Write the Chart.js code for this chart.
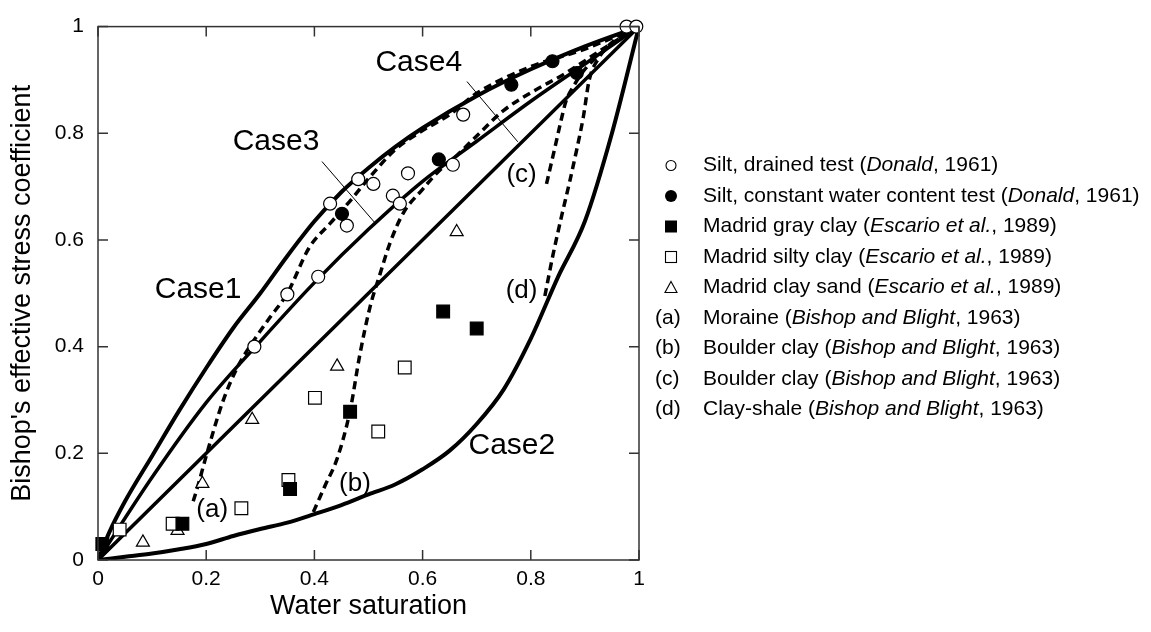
<!DOCTYPE html>
<html>
<head>
<meta charset="utf-8">
<script src="https://cdn.jsdelivr.net/npm/chart.js@4.4.1/dist/chart.umd.min.js"></script>
<style>
	html, body { margin: 0; padding: 0; background: #fff; }
	#wrap { width: 1151px; height: 632px; }
</style>
</head>
<body>
<div id="wrap"><canvas id="chart" width="1151" height="632"></canvas></div>
<script>
// axis ticks
var tick_values = [0, 0.2, 0.4, 0.6, 0.8, 1];
var tick_labels = ['0', '0.2', '0.4', '0.6', '0.8', '1'];

// model curves, [water saturation, chi]
var case1 = [[0,0],[0.02,0.05],[0.05,0.11],[0.1,0.195],[0.15,0.28],[0.2,0.36],[0.25,0.435],[0.3,0.5],[0.35,0.57],[0.4,0.635],[0.45,0.69],[0.5,0.735],[0.55,0.775],[0.6,0.81],[0.7,0.87],[0.8,0.92],[0.9,0.963],[1,1]];
var case3 = [[0,0],[0.1,0.155],[0.2,0.295],[0.3,0.41],[0.4,0.52],[0.5,0.62],[0.6,0.71],[0.7,0.785],[0.8,0.86],[0.9,0.93],[1,1]];
var case4 = [[0,0],[1,1]];
var case2 = [[0,0],[0.05,0.006],[0.1,0.012],[0.15,0.02],[0.2,0.03],[0.25,0.045],[0.3,0.058],[0.35,0.07],[0.4,0.086],[0.45,0.103],[0.5,0.123],[0.55,0.142],[0.6,0.17],[0.65,0.205],[0.7,0.255],[0.75,0.32],[0.8,0.415],[0.85,0.53],[0.9,0.635],[0.95,0.8],[1,1]];

// Bishop and Blight (1963) test curves
var curve_a = [[0.176,0.11],[0.185,0.14],[0.2,0.195],[0.23,0.295],[0.257,0.36],[0.287,0.41],[0.318,0.455],[0.35,0.5],[0.39,0.585],[0.43,0.632],[0.47,0.678],[0.5,0.715],[0.55,0.77],[0.6,0.805],[0.65,0.835],[0.7,0.875],[0.8,0.925],[0.9,0.958],[1,1]];
var curve_b = [[0.398,0.09],[0.42,0.14],[0.442,0.19],[0.466,0.28],[0.484,0.385],[0.503,0.475],[0.521,0.535],[0.54,0.595],[0.564,0.65],[0.6,0.695],[0.626,0.725],[0.663,0.758],[0.7,0.795],[0.75,0.843],[0.8,0.876],[0.865,0.913],[0.93,0.956],[1,1]];
var curve_c = [[0.829,0.705],[0.837,0.74],[0.845,0.775],[0.855,0.82],[0.865,0.86],[0.88,0.89],[0.9,0.92],[0.93,0.95],[0.96,0.975],[1,1]];
var curve_d = [[0.826,0.495],[0.841,0.572],[0.857,0.645],[0.872,0.71],[0.885,0.77],[0.897,0.83],[0.908,0.9],[0.925,0.94],[0.95,0.97],[1,1]];

// measured points
var silt_drained = [[0.289,0.40],[0.35,0.498],[0.407,0.531],[0.429,0.668],[0.46,0.627],[0.481,0.714],[0.509,0.705],[0.545,0.683],[0.558,0.668],[0.573,0.725],[0.656,0.741],[0.675,0.835],[0.977,1.0],[0.995,1.0]];
var silt_constant = [[0.451,0.649],[0.63,0.751],[0.764,0.891],[0.84,0.935],[0.885,0.913]];
var gray_clay = [[0.008,0.03],[0.156,0.068],[0.355,0.133],[0.466,0.278],[0.638,0.466],[0.70,0.434]];
var silty_clay = [[0.04,0.057],[0.138,0.068],[0.265,0.097],[0.352,0.15],[0.401,0.304],[0.518,0.241],[0.567,0.361]];
var clay_sand = [[0.083,0.033],[0.147,0.055],[0.193,0.143],[0.285,0.263],[0.442,0.363],[0.663,0.615]];

// leader lines for the Case3 / Case4 labels
var leader3 = [[0.414,0.747],[0.512,0.632]];
var leader4 = [[0.682,0.897],[0.776,0.784]];

var FONT = '"Liberation Sans", Arial, Helvetica, sans-serif';
Chart.defaults.font.family = FONT;
Chart.defaults.color = '#000';

var to_xy = function(arr) {
	return arr.map(function(p) { return {x: p[0], y: p[1]}; });
};

var marks = function(arr, style, radius, fill) {
	return {
		type: 'scatter', data: to_xy(arr), showLine: false, clip: false,
		pointStyle: style, pointRadius: radius, pointHoverRadius: radius,
		pointBackgroundColor: fill, pointBorderColor: '#000', pointBorderWidth: 1.2
	};
};

var curve = function(arr, width, dash) {
	return {
		type: 'line', data: to_xy(arr), showLine: true, fill: false,
		borderColor: '#000', borderWidth: width, borderDash: dash || [],
		borderCapStyle: 'butt', cubicInterpolationMode: 'monotone',
		pointRadius: 0, pointHoverRadius: 0
	};
};

// on-plot labels, data coordinates
var notes = [
	{t: 'Case1', x: 0.185, y: 0.506, size: 30},
	{t: 'Case2', x: 0.765, y: 0.215, size: 30},
	{t: 'Case3', x: 0.329, y: 0.785, size: 30},
	{t: 'Case4', x: 0.593, y: 0.932, size: 30},
	{t: '(a)', x: 0.211, y: 0.094, size: 26},
	{t: '(b)', x: 0.475, y: 0.143, size: 26},
	{t: '(c)', x: 0.783, y: 0.722, size: 26},
	{t: '(d)', x: 0.783, y: 0.505, size: 26}
];

var legend_rows = [
	{sym: 'circle-open', parts: [['Silt, drained test ('], ['Donald', 1], [', 1961)']]},
	{sym: 'circle-fill', parts: [['Silt, constant water content test ('], ['Donald', 1], [', 1961)']]},
	{sym: 'square-fill', parts: [['Madrid gray clay ('], ['Escario et al.', 1], [', 1989)']]},
	{sym: 'square-open', parts: [['Madrid silty clay ('], ['Escario et al.', 1], [', 1989)']]},
	{sym: 'triangle', parts: [['Madrid clay sand ('], ['Escario et al.', 1], [', 1989)']]},
	{sym: '(a)', parts: [['Moraine ('], ['Bishop and Blight', 1], [', 1963)']]},
	{sym: '(b)', parts: [['Boulder clay ('], ['Bishop and Blight', 1], [', 1963)']]},
	{sym: '(c)', parts: [['Boulder clay ('], ['Bishop and Blight', 1], [', 1963)']]},
	{sym: '(d)', parts: [['Clay-shale ('], ['Bishop and Blight', 1], [', 1963)']]}
];

// frame, inward ticks, labels and legend
var overlay = {
	id: 'overlay',
	afterDatasetsDraw: function(chart) {
		var ctx = chart.ctx, a = chart.chartArea;
		var xs = chart.scales.x, ys = chart.scales.y;
		ctx.save();
		ctx.strokeStyle = '#333';
		ctx.lineWidth = 1.5;
		ctx.strokeRect(a.left, a.top, a.right - a.left, a.bottom - a.top);
		ctx.beginPath();
		tick_values.forEach(function(v) {
			var px = xs.getPixelForValue(v), py = ys.getPixelForValue(v);
			ctx.moveTo(px, a.bottom); ctx.lineTo(px, a.bottom - 10);
			ctx.moveTo(px, a.top); ctx.lineTo(px, a.top + 10);
			ctx.moveTo(a.left, py); ctx.lineTo(a.left + 10, py);
			ctx.moveTo(a.right, py); ctx.lineTo(a.right - 10, py);
		});
		ctx.stroke();

		ctx.fillStyle = '#000';
		ctx.textAlign = 'center';
		ctx.textBaseline = 'middle';
		notes.forEach(function(n) {
			ctx.font = n.size + 'px ' + FONT;
			ctx.fillText(n.t, xs.getPixelForValue(n.x), ys.getPixelForValue(n.y));
		});

		// legend
		var sym_x = 671, text_x = 703, row_y = 165.5, step = 30.5;
		ctx.textAlign = 'left';
		legend_rows.forEach(function(row, i) {
			var y = row_y + i * step;
			ctx.lineWidth = 1.1;
			ctx.strokeStyle = '#000';
			ctx.fillStyle = '#000';
			if (row.sym === 'circle-open' || row.sym === 'circle-fill') {
				ctx.beginPath();
				ctx.arc(sym_x, y, row.sym === 'circle-fill' ? 6 : 5, 0, Math.PI * 2);
				if (row.sym === 'circle-fill') ctx.fill(); else ctx.stroke();
			} else if (row.sym === 'square-open' || row.sym === 'square-fill') {
				if (row.sym === 'square-fill') ctx.fillRect(sym_x - 6, y - 6, 12, 12);
				else ctx.strokeRect(sym_x - 5.5, y - 5.5, 11, 11);
			} else if (row.sym === 'triangle') {
				ctx.beginPath();
				ctx.moveTo(sym_x, y - 6);
				ctx.lineTo(sym_x + 6, y + 5);
				ctx.lineTo(sym_x - 6, y + 5);
				ctx.closePath();
				ctx.stroke();
			} else {
				ctx.font = '21px ' + FONT;
				ctx.fillText(row.sym, 655, y);
			}
			var x = text_x;
			row.parts.forEach(function(p) {
				ctx.font = (p[1] ? 'italic ' : '') + '21px ' + FONT;
				ctx.fillText(p[0], x, y);
				x += ctx.measureText(p[0]).width;
			});
		});
		ctx.restore();
	}
};

var datasets = [
	marks(silt_constant, 'circle', 6.5, '#000'),
	marks(silt_drained, 'circle', 6.5, '#fff'),
	marks(gray_clay, 'rect', 9, '#000'),
	marks(silty_clay, 'rect', 9, '#fff'),
	marks(clay_sand, 'triangle', 7.5, '#fff'),
	curve(curve_a, 3.5, [8, 5]),
	curve(curve_b, 3.5, [8, 5]),
	curve(curve_c, 3.5, [8, 5]),
	curve(curve_d, 3.5, [8, 5]),
	curve(case1, 4),
	curve(case3, 3.5),
	curve(case4, 3.5),
	curve(case2, 4),
	curve(leader3, 1),
	curve(leader4, 1)
];

new Chart(document.getElementById('chart'), {
	type: 'scatter',
	data: {datasets: datasets},
	options: {
		responsive: false,
		animation: false,
		layout: {padding: {left: 0, right: 512, top: 18, bottom: 0}},
		plugins: {legend: {display: false}, tooltip: {enabled: false}},
		scales: {
			x: {
				type: 'linear', min: 0, max: 1,
				grid: {display: false, drawTicks: false},
				border: {display: false},
				afterBuildTicks: function(scale) {
					scale.ticks = tick_values.map(function(v) { return {value: v}; });
				},
				afterFit: function(scale) { scale.height = 72; },
				ticks: {
					padding: 7, font: {size: 21}, maxRotation: 0,
					callback: function(v) { return tick_labels[tick_values.indexOf(v)]; }
				},
				title: {display: true, text: 'Water saturation', font: {size: 27}, padding: {top: 0, bottom: 9}}
			},
			y: {
				type: 'linear', min: 0, max: 1,
				grid: {display: false, drawTicks: false},
				border: {display: false},
				afterBuildTicks: function(scale) {
					scale.ticks = tick_values.map(function(v) { return {value: v}; });
				},
				afterFit: function(scale) { scale.width = 98; },
				ticks: {
					padding: 14, font: {size: 21},
					callback: function(v) { return tick_labels[tick_values.indexOf(v)]; }
				},
				title: {display: true, text: "Bishop's effective stress coefficient", font: {size: 27}, padding: {top: 6, bottom: 0}}
			}
		}
	},
	plugins: [overlay]
});
</script>
</body>
</html>
